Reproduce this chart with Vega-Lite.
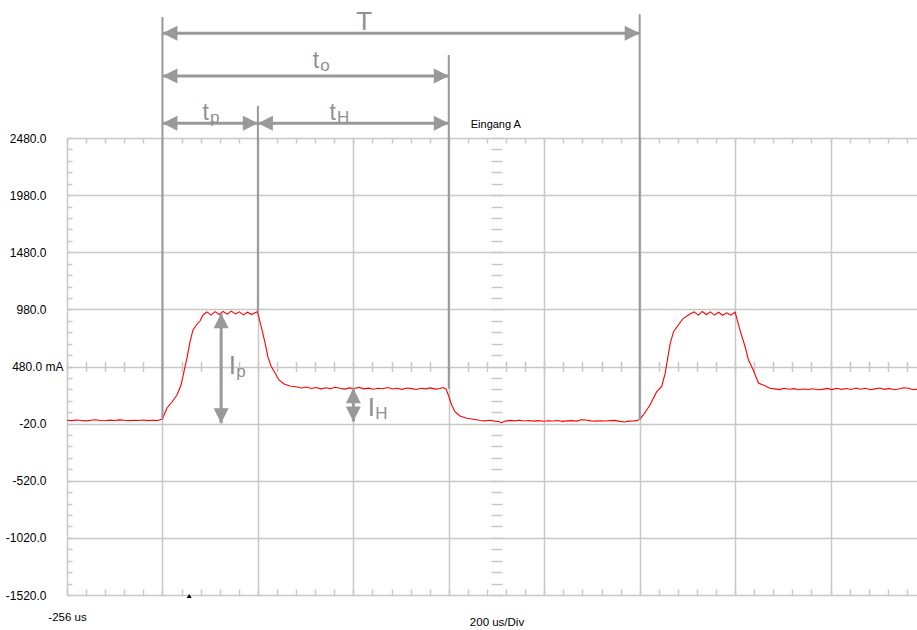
{
  "$schema": "https://vega.github.io/schema/vega-lite/v6.json",
  "width": 850,
  "height": 457,
  "autosize": {"type": "none"},
  "padding": {"left": 67, "top": 138, "right": 0, "bottom": 35},
  "background": "#ffffff",
  "config": {"view": {"stroke": null}},
  "datasets": {
    "trace": [
      {"t": -256, "i": 10}, {"t": -246, "i": 6}, {"t": -236, "i": 12}, {"t": -226, "i": 8}, {"t": -216, "i": 4},
      {"t": -206, "i": 10}, {"t": -196, "i": 14}, {"t": -186, "i": 8}, {"t": -176, "i": 5}, {"t": -166, "i": 11},
      {"t": -156, "i": 7}, {"t": -146, "i": 13}, {"t": -136, "i": 9}, {"t": -126, "i": 6}, {"t": -116, "i": 10},
      {"t": -106, "i": 8}, {"t": -96, "i": 12}, {"t": -86, "i": 6}, {"t": -76, "i": 9}, {"t": -66, "i": 7},
      {"t": -56, "i": 20},
      {"t": -46.5, "i": 117}, {"t": -36, "i": 169}, {"t": -25.5, "i": 230}, {"t": -17, "i": 318}, {"t": -11, "i": 432},
      {"t": -4.5, "i": 555}, {"t": 1.7, "i": 695}, {"t": 8, "i": 800}, {"t": 16.4, "i": 852}, {"t": 22.7, "i": 878},
      {"t": 29, "i": 931},
      {"t": 37, "i": 958}, {"t": 46, "i": 930}, {"t": 54, "i": 960}, {"t": 63, "i": 935}, {"t": 71, "i": 962},
      {"t": 80, "i": 938}, {"t": 88, "i": 965}, {"t": 97, "i": 940}, {"t": 105, "i": 958}, {"t": 114, "i": 932},
      {"t": 122, "i": 955}, {"t": 131, "i": 935}, {"t": 139, "i": 952}, {"t": 143, "i": 960},
      {"t": 146.3, "i": 904}, {"t": 152.6, "i": 800}, {"t": 159, "i": 686}, {"t": 165, "i": 564}, {"t": 171.5, "i": 485},
      {"t": 180, "i": 423}, {"t": 188, "i": 362}, {"t": 199, "i": 327}, {"t": 211, "i": 310}, {"t": 226, "i": 301},
      {"t": 236, "i": 292}, {"t": 246, "i": 300}, {"t": 256, "i": 288}, {"t": 266, "i": 296}, {"t": 276, "i": 284},
      {"t": 286, "i": 294}, {"t": 296, "i": 286}, {"t": 306, "i": 298}, {"t": 316, "i": 289}, {"t": 326, "i": 282},
      {"t": 336, "i": 293}, {"t": 346, "i": 287}, {"t": 356, "i": 297}, {"t": 366, "i": 284}, {"t": 376, "i": 291},
      {"t": 386, "i": 281}, {"t": 396, "i": 290}, {"t": 406, "i": 285}, {"t": 416, "i": 296}, {"t": 426, "i": 283},
      {"t": 436, "i": 289}, {"t": 446, "i": 280}, {"t": 456, "i": 292}, {"t": 466, "i": 286}, {"t": 476, "i": 279},
      {"t": 486, "i": 290}, {"t": 496, "i": 284}, {"t": 506, "i": 293}, {"t": 516, "i": 282}, {"t": 526, "i": 288},
      {"t": 532, "i": 296}, {"t": 538, "i": 284},
      {"t": 543, "i": 231}, {"t": 550, "i": 143}, {"t": 557, "i": 84}, {"t": 567.5, "i": 47}, {"t": 581.6, "i": 27},
      {"t": 599, "i": 16},
      {"t": 610, "i": 8}, {"t": 620, "i": 4}, {"t": 630, "i": 10}, {"t": 640, "i": 2}, {"t": 650, "i": -4},
      {"t": 655, "i": -12}, {"t": 662, "i": 2}, {"t": 672, "i": 8}, {"t": 682, "i": 4}, {"t": 692, "i": 9},
      {"t": 702, "i": 3}, {"t": 712, "i": 7}, {"t": 722, "i": 2}, {"t": 732, "i": 6}, {"t": 742, "i": 1},
      {"t": 752, "i": 5}, {"t": 762, "i": 3}, {"t": 772, "i": 7}, {"t": 782, "i": 0}, {"t": 792, "i": 4},
      {"t": 802, "i": 6}, {"t": 812, "i": 2}, {"t": 822, "i": 14}, {"t": 832, "i": 12}, {"t": 842, "i": 4},
      {"t": 852, "i": 2}, {"t": 862, "i": 5}, {"t": 872, "i": 3}, {"t": 882, "i": 6}, {"t": 892, "i": 8},
      {"t": 902, "i": 0}, {"t": 912, "i": -6}, {"t": 922, "i": 2}, {"t": 932, "i": 4}, {"t": 938, "i": 6},
      {"t": 944, "i": 18},
      {"t": 951.6, "i": 56}, {"t": 965.6, "i": 143}, {"t": 979.7, "i": 260}, {"t": 990, "i": 303}, {"t": 997.4, "i": 420},
      {"t": 1008, "i": 683}, {"t": 1015, "i": 785}, {"t": 1025, "i": 843}, {"t": 1035.5, "i": 902}, {"t": 1049.6, "i": 940},
      {"t": 1058, "i": 958}, {"t": 1067, "i": 930}, {"t": 1075, "i": 962}, {"t": 1084, "i": 935}, {"t": 1092, "i": 958},
      {"t": 1101, "i": 930}, {"t": 1109, "i": 955}, {"t": 1118, "i": 928}, {"t": 1126, "i": 950}, {"t": 1135, "i": 930},
      {"t": 1144, "i": 955},
      {"t": 1154, "i": 800}, {"t": 1165, "i": 653}, {"t": 1172, "i": 537}, {"t": 1182, "i": 449}, {"t": 1193, "i": 333},
      {"t": 1203, "i": 318}, {"t": 1217, "i": 289},
      {"t": 1227, "i": 284}, {"t": 1237, "i": 278}, {"t": 1247, "i": 290}, {"t": 1257, "i": 281}, {"t": 1267, "i": 286},
      {"t": 1277, "i": 276}, {"t": 1287, "i": 283}, {"t": 1297, "i": 279}, {"t": 1307, "i": 285}, {"t": 1317, "i": 277},
      {"t": 1327, "i": 280}, {"t": 1337, "i": 288}, {"t": 1347, "i": 278}, {"t": 1357, "i": 290}, {"t": 1367, "i": 280},
      {"t": 1377, "i": 287}, {"t": 1387, "i": 279}, {"t": 1397, "i": 291}, {"t": 1407, "i": 281}, {"t": 1417, "i": 289},
      {"t": 1427, "i": 276}, {"t": 1437, "i": 284}, {"t": 1447, "i": 292}, {"t": 1457, "i": 280}, {"t": 1467, "i": 288},
      {"t": 1477, "i": 276}, {"t": 1487, "i": 283}, {"t": 1497, "i": 294}, {"t": 1507, "i": 290}, {"t": 1517, "i": 276},
      {"t": 1525, "i": 282}
    ],
    "vlines": [
      {"t": -56, "top": 3539, "bottom": 20},
      {"t": 144, "top": 2760, "bottom": 957},
      {"t": 544, "top": 3206, "bottom": 285},
      {"t": 944, "top": 3563, "bottom": 12}
    ],
    "harrows": [
      {"name": "T", "t1": -56, "t2": 944, "level": 3396},
      {"name": "to", "t1": -56, "t2": 544, "level": 3023},
      {"name": "tp", "t1": -56, "t2": 144, "level": 2609},
      {"name": "tH", "t1": 144, "t2": 544, "level": 2609}
    ],
    "varrows": [
      {"name": "Ip", "t": 67, "low": -17, "high": 946},
      {"name": "IH", "t": 344, "low": -2, "high": 290}
    ],
    "labels": [
      {"t": 350, "i": 3425, "main": "T", "sub": ""},
      {"t": 259, "i": 3090, "main": "t", "sub": "o"},
      {"t": 28, "i": 2638, "main": "t", "sub": "p"},
      {"t": 294, "i": 2640, "main": "t", "sub": "H"},
      {"t": 83, "i": 410, "main": "I", "sub": "p"},
      {"t": 374, "i": 47, "main": "I", "sub": "H"}
    ],
    "channel": [{"t": 590, "i": 2568, "text": "Eingang A"}],
    "trigger": [{"t": 0, "i": -1520}]
  },
  "resolve": {"axis": {"x": "independent", "y": "independent"}},
  "layer": [
    {
      "data": {"name": "trace"},
      "mark": {"type": "line", "color": "#ff0000", "strokeWidth": 1.1},
      "encoding": {
        "x": {"field": "t", "type": "quantitative", "scale": {"domain": [-256, 1525.1], "nice": false, "zero": false},
          "axis": {"orient": "bottom", "values": [-256, -56, 144, 344, 544, 744, 944, 1144, 1344], "grid": true, "gridColor": "#c8c8c8", "gridWidth": 1.5, "ticks": false, "labels": false, "domain": false, "title": null}},
        "y": {"field": "i", "type": "quantitative", "scale": {"domain": [-1520, 2480], "nice": false, "zero": false},
          "axis": {"orient": "left", "values": [-1520, -1020, -520, -20, 480, 980, 1480, 1980, 2480], "grid": true, "gridColor": "#c8c8c8", "gridWidth": 1.5, "ticks": false, "tickSize": 0, "domain": false, "title": null,
            "labelExpr": "datum.value == 480 ? '480.0 mA' : (datum.value < 0 ? '-' : '') + format(abs(datum.value), '.1f')",
            "labelPadding": {"condition": {"test": "datum.value == 480", "value": 4}, "value": 21},
            "labelFont": "Liberation Sans", "labelFontSize": 12, "labelColor": "#000000", "labelOverlap": false, "labelFlush": false, "labelBound": false}}
      }
    },
    {
      "data": {"name": "vlines"},
      "mark": {"type": "rule", "color": "#999999", "strokeWidth": 2},
      "encoding": {
        "x": {"field": "t", "type": "quantitative", "scale": {"domain": [-256, 1525.1], "nice": false, "zero": false},
          "axis": {"orient": "bottom", "values": [-256, 644], "grid": false, "ticks": false, "tickSize": 0, "domain": false, "title": null,
            "labelExpr": "datum.value < 0 ? '-256 us' : '200 us/Div'",
            "labelPadding": {"condition": {"test": "datum.value > 0", "value": 21}, "value": 16},
            "labelFont": "Liberation Sans", "labelFontSize": 11.5, "labelColor": "#000000", "labelFlush": false, "labelOverlap": false, "labelBound": false, "labelAlign": "center"}},
        "y": {"field": "top", "type": "quantitative", "scale": {"domain": [-1520, 2480], "nice": false, "zero": false},
          "axis": {"orient": "left", "values": [-1520,-1420,-1320,-1220,-1120,-1020,-920,-820,-720,-620,-520,-420,-320,-220,-120,-20,80,180,280,380,480,580,680,780,880,980,1080,1180,1280,1380,1480,1580,1680,1780,1880,1980,2080,2180,2280,2380,2480],
            "offset": -5, "tickSize": 5, "ticks": true, "tickColor": "#c8c8c8", "tickWidth": 1.5, "labels": false, "domain": false, "grid": false, "title": null}},
        "y2": {"field": "bottom"}
      }
    },
    {
      "data": {"name": "harrows"},
      "mark": {"type": "rule", "color": "#999999", "strokeWidth": 3},
      "encoding": {
        "x": {"field": "t1", "type": "quantitative", "scale": {"domain": [-256, 1525.1], "nice": false, "zero": false},
          "axis": {"orient": "bottom", "values": [-256,-216,-176,-136,-96,-56,-16,24,64,104,144,184,224,264,304,344,384,424,464,504,544,584,624,664,704,744,784,824,864,904,944,984,1024,1064,1104,1144,1184,1224,1264,1304,1344,1384,1424,1464,1504],
            "offset": -6, "tickSize": 6, "ticks": true, "tickColor": "#c8c8c8", "tickWidth": 1.5, "labels": false, "domain": false, "grid": false, "title": null}},
        "x2": {"field": "t2"},
        "y": {"field": "level", "type": "quantitative", "scale": {"domain": [-1520, 2480], "nice": false, "zero": false},
          "axis": {"orient": "left", "values": [-1520,-1420,-1320,-1220,-1120,-1020,-920,-820,-720,-620,-520,-420,-320,-220,-120,-20,80,180,280,380,480,580,680,780,880,980,1080,1180,1280,1380,1480,1580,1680,1780,1880,1980,2080,2180,2280,2380,2480],
            "offset": -435, "tickSize": 11, "ticks": true, "tickColor": "#c8c8c8", "tickWidth": 1.5, "labels": false, "domain": false, "grid": false, "title": null}}
      }
    },
    {
      "data": {"name": "harrows"},
      "mark": {"type": "point", "shape": "M0,0L2,-1L2,1Z", "size": 225, "filled": true, "color": "#999999", "opacity": 1, "strokeWidth": 0},
      "encoding": {
        "x": {"field": "t1", "type": "quantitative", "scale": {"domain": [-256, 1525.1], "nice": false, "zero": false},
          "axis": {"orient": "top", "values": [-256,-216,-176,-136,-96,-56,-16,24,64,104,144,184,224,264,304,344,384,424,464,504,544,584,624,664,704,744,784,824,864,904,944,984,1024,1064,1104,1144,1184,1224,1264,1304,1344,1384,1424,1464,1504],
            "offset": -5, "tickSize": 5, "ticks": true, "tickColor": "#c8c8c8", "tickWidth": 1.5, "labels": false, "domain": false, "grid": false, "title": null}},
        "y": {"field": "level", "type": "quantitative", "scale": {"domain": [-1520, 2480], "nice": false, "zero": false}, "axis": null}
      }
    },
    {
      "data": {"name": "harrows"},
      "mark": {"type": "point", "shape": "M0,0L-2,-1L-2,1Z", "size": 225, "filled": true, "color": "#999999", "opacity": 1, "strokeWidth": 0},
      "encoding": {
        "x": {"field": "t2", "type": "quantitative", "scale": {"domain": [-256, 1525.1], "nice": false, "zero": false},
          "axis": {"orient": "bottom", "values": [-256,-216,-176,-136,-96,-56,-16,24,64,104,144,184,224,264,304,344,384,424,464,504,544,584,624,664,704,744,784,824,864,904,944,984,1024,1064,1104,1144,1184,1224,1264,1304,1344,1384,1424,1464,1504],
            "offset": -233.5, "tickSize": 10, "ticks": true, "tickColor": "#c8c8c8", "tickWidth": 1.5, "labels": false, "domain": false, "grid": false, "title": null}},
        "y": {"field": "level", "type": "quantitative", "scale": {"domain": [-1520, 2480], "nice": false, "zero": false}, "axis": null}
      }
    },
    {
      "data": {"name": "varrows"},
      "mark": {"type": "rule", "color": "#999999", "strokeWidth": 3},
      "encoding": {
        "x": {"field": "t", "type": "quantitative", "scale": {"domain": [-256, 1525.1], "nice": false, "zero": false}, "axis": null},
        "y": {"field": "low", "type": "quantitative", "scale": {"domain": [-1520, 2480], "nice": false, "zero": false}, "axis": null},
        "y2": {"field": "high"}
      }
    },
    {
      "data": {"name": "varrows"},
      "mark": {"type": "point", "shape": "M0,0L-1,2L1,2Z", "size": 225, "filled": true, "color": "#999999", "opacity": 1, "strokeWidth": 0},
      "encoding": {
        "x": {"field": "t", "type": "quantitative", "scale": {"domain": [-256, 1525.1], "nice": false, "zero": false}, "axis": null},
        "y": {"field": "high", "type": "quantitative", "scale": {"domain": [-1520, 2480], "nice": false, "zero": false}, "axis": null}
      }
    },
    {
      "data": {"name": "varrows"},
      "mark": {"type": "point", "shape": "M0,0L-1,-2L1,-2Z", "size": 225, "filled": true, "color": "#999999", "opacity": 1, "strokeWidth": 0},
      "encoding": {
        "x": {"field": "t", "type": "quantitative", "scale": {"domain": [-256, 1525.1], "nice": false, "zero": false}, "axis": null},
        "y": {"field": "low", "type": "quantitative", "scale": {"domain": [-1520, 2480], "nice": false, "zero": false}, "axis": null}
      }
    },
    {
      "data": {"name": "labels"},
      "transform": [{"filter": "datum.main != 't'"}],
      "mark": {"type": "text", "align": "left", "baseline": "alphabetic", "font": "Liberation Sans", "fontSize": 26, "color": "#909090"},
      "encoding": {
        "x": {"field": "t", "type": "quantitative", "scale": {"domain": [-256, 1525.1], "nice": false, "zero": false}, "axis": null},
        "y": {"field": "i", "type": "quantitative", "scale": {"domain": [-1520, 2480], "nice": false, "zero": false}, "axis": null},
        "text": {"field": "main"}
      }
    },
    {
      "data": {"name": "labels"},
      "transform": [{"filter": "datum.main == 't'"}],
      "mark": {"type": "text", "align": "left", "baseline": "alphabetic", "font": "Liberation Sans", "fontSize": 23, "color": "#909090"},
      "encoding": {
        "x": {"field": "t", "type": "quantitative", "scale": {"domain": [-256, 1525.1], "nice": false, "zero": false}, "axis": null},
        "y": {"field": "i", "type": "quantitative", "scale": {"domain": [-1520, 2480], "nice": false, "zero": false}, "axis": null},
        "text": {"field": "main"}
      }
    },
    {
      "data": {"name": "labels"},
      "transform": [{"filter": "datum.sub != ''"}],
      "mark": {"type": "text", "align": "left", "baseline": "alphabetic", "font": "Liberation Sans", "fontSize": 17, "color": "#909090", "dx": 7.5, "dy": 3},
      "encoding": {
        "x": {"field": "t", "type": "quantitative", "scale": {"domain": [-256, 1525.1], "nice": false, "zero": false}, "axis": null},
        "y": {"field": "i", "type": "quantitative", "scale": {"domain": [-1520, 2480], "nice": false, "zero": false}, "axis": null},
        "text": {"field": "sub"}
      }
    },
    {
      "data": {"name": "channel"},
      "mark": {"type": "text", "align": "left", "baseline": "alphabetic", "font": "Liberation Sans", "fontSize": 11, "color": "#000000"},
      "encoding": {
        "x": {"field": "t", "type": "quantitative", "scale": {"domain": [-256, 1525.1], "nice": false, "zero": false}, "axis": null},
        "y": {"field": "i", "type": "quantitative", "scale": {"domain": [-1520, 2480], "nice": false, "zero": false}, "axis": null},
        "text": {"field": "text"}
      }
    },
    {
      "data": {"name": "trigger"},
      "mark": {"type": "point", "shape": "M0,-0.4L1,1.2L-1,1.2Z", "size": 25, "filled": true, "color": "#000000", "opacity": 1, "strokeWidth": 0},
      "encoding": {
        "x": {"field": "t", "type": "quantitative", "scale": {"domain": [-256, 1525.1], "nice": false, "zero": false}, "axis": null},
        "y": {"field": "i", "type": "quantitative", "scale": {"domain": [-1520, 2480], "nice": false, "zero": false}, "axis": null}
      }
    }
  ]
}
